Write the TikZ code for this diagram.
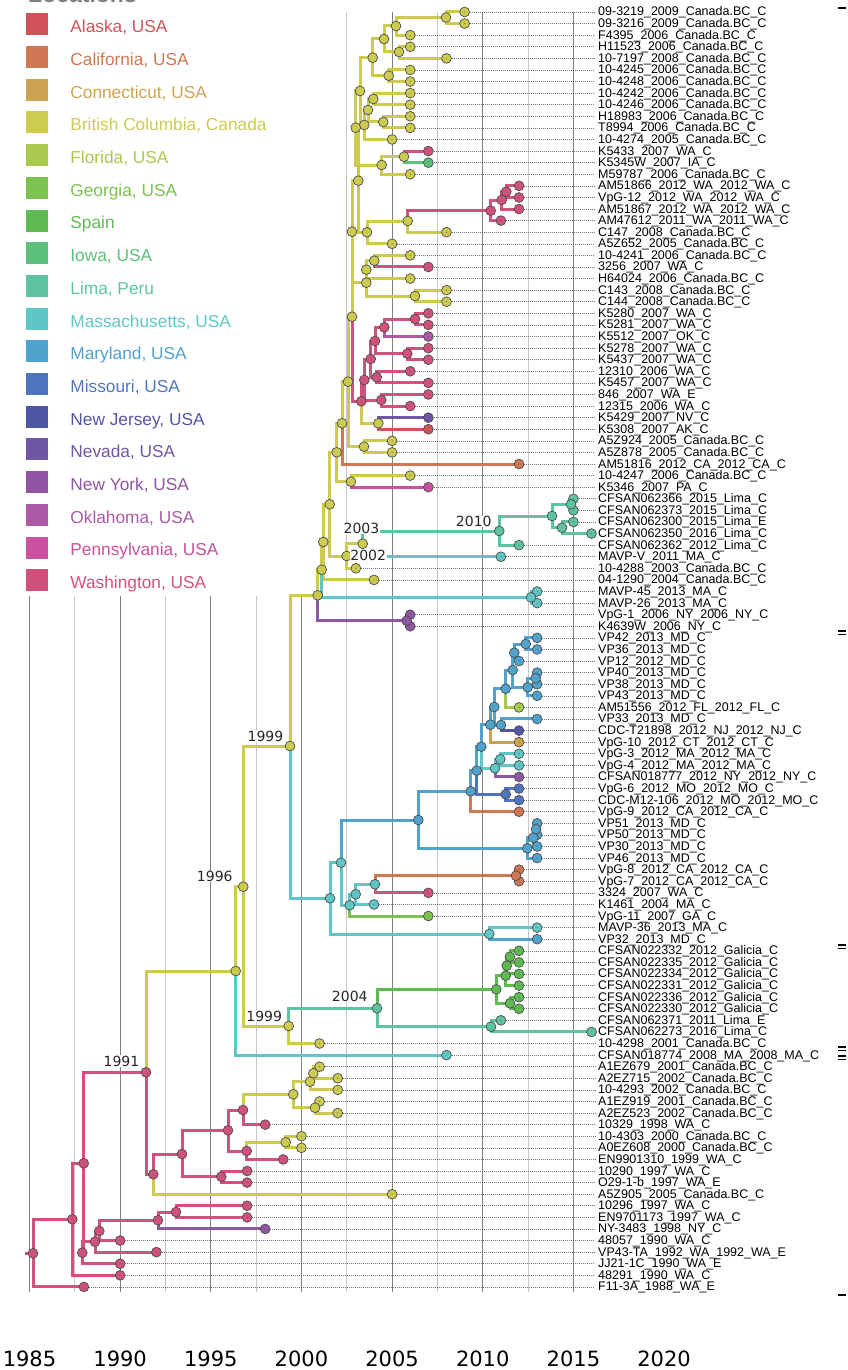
\documentclass[tikz,border=0pt]{standalone}
\usepackage{fontspec}
\setmainfont{Liberation Sans}
\newfontfamily\yearfont{DejaVu Sans}

\definecolor{ak}{HTML}{D0525A}
\definecolor{ca}{HTML}{CE7752}
\definecolor{ct}{HTML}{CDA251}
\definecolor{bc}{HTML}{CCCB50}
\definecolor{fl}{HTML}{A8C94E}
\definecolor{ga}{HTML}{7DC250}
\definecolor{es}{HTML}{5EBB51}
\definecolor{ia}{HTML}{5CBF7A}
\definecolor{pe}{HTML}{5EC39F}
\definecolor{ma}{HTML}{5EC7C6}
\definecolor{md}{HTML}{4FA3CC}
\definecolor{mo}{HTML}{5075BD}
\definecolor{nj}{HTML}{5155A6}
\definecolor{nv}{HTML}{6E57A5}
\definecolor{ny}{HTML}{8E56A3}
\definecolor{ok}{HTML}{AC5AA6}
\definecolor{pa}{HTML}{C9519F}
\definecolor{wa}{HTML}{D0527A}

\pgfdeclarelayer{back}
\pgfdeclarelayer{branches}
\pgfsetlayers{back,branches,main}

% parent, child 1 and its colour, child 2 and its colour
\newcommand{\kids}[5]{%
  \draw[branch,#3] (#1.center) |- (#2.center);
  \draw[branch,#5] (#1.center) |- (#4.center);}

\begin{document}
\begin{tikzpicture}[x=1pt,y=-1pt,
    dot/.style={circle,draw=black!70,line width=0.7pt,minimum size=9.8pt,inner sep=0pt},
    tip/.style={dot,path picture={\fill[black!60] (path picture bounding box.center) circle (0.6pt);}},
    branch/.style={line width=3pt},
    leader/.style={black!55,line width=0.6pt,dash pattern=on 0.8pt off 1.2pt},
    tiplabel/.style={anchor=west,inner xsep=3pt,inner ysep=0pt,text height=9.5pt,text depth=1.5pt,
      font=\fontsize{12.5pt}{14pt}\selectfont},
    gridmajor/.style={black!50,line width=1pt},
    gridminor/.style={black!22,line width=1pt},
    yearlab/.style={anchor=base east,fill=white,inner sep=0.5pt,text=black!85,
      font=\yearfont\fontsize{14pt}{16pt}\selectfont},
    legbox/.style={minimum size=22pt,inner sep=0pt},
    legtext/.style={anchor=base west,inner sep=0pt,font=\fontsize{17.3pt}{19pt}\selectfont},
    axislab/.style={anchor=base,inner sep=0pt,font=\yearfont\fontsize{21pt}{23pt}\selectfont}]

  \useasboundingbox (0,0) rectangle (847,1370);

  % time grid, every 2.5 years
  \begin{pgfonlayer}{back}
    \foreach \k in {0,2,...,12} {
      \pgfmathsetmacro\gy{\k<7 ? 596 : 12}
      \draw[gridmajor] ({29.5+\k*45.325},\gy) -- ({29.5+\k*45.325},1292);
    }
    \foreach \k in {1,3,...,11} {
      \pgfmathsetmacro\gy{\k<7 ? 596 : 12}
      \draw[gridminor] ({29.5+\k*45.325},\gy) -- ({29.5+\k*45.325},1292);
    }
  \end{pgfonlayer}

  % tips
  \foreach \yr/\col/\lab [count=\i] in {
      2009/bc/09-3219\_2009\_Canada.BC\_C, 2009/bc/09-3216\_2009\_Canada.BC\_C,
      2006/bc/F4395\_2006\_Canada.BC\_C, 2006/bc/H11523\_2006\_Canada.BC\_C,
      2008/bc/10-7197\_2008\_Canada.BC\_C, 2006/bc/10-4245\_2006\_Canada.BC\_C,
      2006/bc/10-4248\_2006\_Canada.BC\_C, 2006/bc/10-4242\_2006\_Canada.BC\_C,
      2006/bc/10-4246\_2006\_Canada.BC\_C, 2006/bc/H18983\_2006\_Canada.BC\_C,
      2006/bc/T8994\_2006\_Canada.BC\_C, 2005/bc/10-4274\_2005\_Canada.BC\_C,
      2007/wa/K5433\_2007\_WA\_C, 2007/ia/K5345W\_2007\_IA\_C,
      2006/bc/M59787\_2006\_Canada.BC\_C, 2012/wa/AM51866\_2012\_WA\_2012\_WA\_C,
      2012/wa/VpG-12\_2012\_WA\_2012\_WA\_C, 2012/wa/AM51867\_2012\_WA\_2012\_WA\_C,
      2011/wa/AM47612\_2011\_WA\_2011\_WA\_C, 2008/bc/C147\_2008\_Canada.BC\_C,
      2005/bc/A5Z652\_2005\_Canada.BC\_C, 2006/bc/10-4241\_2006\_Canada.BC\_C,
      2007/wa/3256\_2007\_WA\_C, 2006/bc/H64024\_2006\_Canada.BC\_C,
      2008/bc/C143\_2008\_Canada.BC\_C, 2008/bc/C144\_2008\_Canada.BC\_C,
      2007/wa/K5280\_2007\_WA\_C, 2007/wa/K5281\_2007\_WA\_C,
      2007/ok/K5512\_2007\_OK\_C, 2007/wa/K5278\_2007\_WA\_C,
      2007/wa/K5437\_2007\_WA\_C, 2006/wa/12310\_2006\_WA\_C,
      2007/wa/K5457\_2007\_WA\_C, 2007/wa/846\_2007\_WA\_E,
      2006/wa/12315\_2006\_WA\_C, 2007/nv/K5429\_2007\_NV\_C,
      2007/ak/K5308\_2007\_AK\_C, 2005/bc/A5Z924\_2005\_Canada.BC\_C,
      2005/bc/A5Z878\_2005\_Canada.BC\_C, 2012/ca/AM51816\_2012\_CA\_2012\_CA\_C,
      2006/bc/10-4247\_2006\_Canada.BC\_C, 2007/pa/K5346\_2007\_PA\_C,
      2015/pe/CFSAN062366\_2015\_Lima\_C, 2015/pe/CFSAN062373\_2015\_Lima\_C,
      2015/pe/CFSAN062300\_2015\_Lima\_E, 2016/pe/CFSAN062350\_2016\_Lima\_C,
      2012/pe/CFSAN062362\_2012\_Lima\_C, 2011/ma/MAVP-V\_2011\_MA\_C,
      2003/bc/10-4288\_2003\_Canada.BC\_C, 2004/bc/04-1290\_2004\_Canada.BC\_C,
      2013/ma/MAVP-45\_2013\_MA\_C, 2013/ma/MAVP-26\_2013\_MA\_C,
      2006/ny/VpG-1\_2006\_NY\_2006\_NY\_C, 2006/ny/K4639W\_2006\_NY\_C,
      2013/md/VP42\_2013\_MD\_C, 2013/md/VP36\_2013\_MD\_C,
      2012/md/VP12\_2012\_MD\_C, 2013/md/VP40\_2013\_MD\_C,
      2013/md/VP38\_2013\_MD\_C, 2013/md/VP43\_2013\_MD\_C,
      2012/fl/AM51556\_2012\_FL\_2012\_FL\_C, 2013/md/VP33\_2013\_MD\_C,
      2012/nj/CDC-T21898\_2012\_NJ\_2012\_NJ\_C, 2012/ct/VpG-10\_2012\_CT\_2012\_CT\_C,
      2012/ma/VpG-3\_2012\_MA\_2012\_MA\_C, 2012/ma/VpG-4\_2012\_MA\_2012\_MA\_C,
      2012/ny/CFSAN018777\_2012\_NY\_2012\_NY\_C, 2012/mo/VpG-6\_2012\_MO\_2012\_MO\_C,
      2012/mo/CDC-M12-106\_2012\_MO\_2012\_MO\_C, 2012/ca/VpG-9\_2012\_CA\_2012\_CA\_C,
      2013/md/VP51\_2013\_MD\_C, 2013/md/VP50\_2013\_MD\_C,
      2013/md/VP30\_2013\_MD\_C, 2013/md/VP46\_2013\_MD\_C,
      2012/ca/VpG-8\_2012\_CA\_2012\_CA\_C, 2012/ca/VpG-7\_2012\_CA\_2012\_CA\_C,
      2007/wa/3324\_2007\_WA\_C, 2004/ma/K1461\_2004\_MA\_C,
      2007/ga/VpG-11\_2007\_GA\_C, 2013/ma/MAVP-36\_2013\_MA\_C,
      2013/md/VP32\_2013\_MD\_C, 2012/es/CFSAN022332\_2012\_Galicia\_C,
      2012/es/CFSAN022335\_2012\_Galicia\_C, 2012/es/CFSAN022334\_2012\_Galicia\_C,
      2012/es/CFSAN022331\_2012\_Galicia\_C, 2012/es/CFSAN022336\_2012\_Galicia\_C,
      2012/es/CFSAN022330\_2012\_Galicia\_C, 2011/pe/CFSAN062371\_2011\_Lima\_E,
      2016/pe/CFSAN062273\_2016\_Lima\_C, 2001/bc/10-4298\_2001\_Canada.BC\_C,
      2008/ma/CFSAN018774\_2008\_MA\_2008\_MA\_C, 2001/bc/A1EZ679\_2001\_Canada.BC\_C,
      2002/bc/A2EZ715\_2002\_Canada.BC\_C, 2002/bc/10-4293\_2002\_Canada.BC\_C,
      2001/bc/A1EZ919\_2001\_Canada.BC\_C, 2002/bc/A2EZ523\_2002\_Canada.BC\_C,
      1998/wa/10329\_1998\_WA\_C, 2000/bc/10-4303\_2000\_Canada.BC\_C,
      2000/bc/A0EZ608\_2000\_Canada.BC\_C, 1999/wa/EN9901310\_1999\_WA\_C,
      1997/wa/10290\_1997\_WA\_C, 1997/wa/O29-1-b\_1997\_WA\_E,
      2005/bc/A5Z905\_2005\_Canada.BC\_C, 1997/wa/10296\_1997\_WA\_C,
      1997/wa/EN9701173\_1997\_WA\_C, 1998/ny/NY-3483\_1998\_NY\_C,
      1990/wa/48057\_1990\_WA\_C, 1992/wa/VP43-TA\_1992\_WA\_1992\_WA\_E,
      1990/wa/JJ21-1C\_1990\_WA\_E, 1990/wa/48291\_1990\_WA\_C,
      1988/wa/F11-3A\_1988\_WA\_E} {
    \node[tip,fill=\col] (t\i) at ({29.5+(\yr-1985)*18.13},{12+(\i-1)*11.59}) {};
    \node[tiplabel] (lab\i) at (595,{12+(\i-1)*11.59}) {\lab};
    \begin{pgfonlayer}{back}
      \draw[leader] (t\i) -- (lab\i.west);
    \end{pgfonlayer}
  }

  % inner nodes
  \foreach \nm/\x/\y/\col in {
      nn/446/17.5/bc, nl/396/26/bc, nm/399/52/bc, nj/384/39/bc, nk/388.7/75.7/bc,
      nb/372.7/57.7/bc, nh/373.3/99/bc, ni/383.3/122/bc, ng/368/110/bc, nd/364.3/125/bc,
      na/360/91/bc, nf/404/156.7/bc, ne/381.7/165/bc, u1/355.7/127.7/bc,
      s4/506.3/191.7/wa, s3/501.7/200/wa, s2/490.7/210.7/wa, s1/407.7/221/bc, s/367/232.3/bc,
      u2/358.3/180.7/bc, r3/374.3/260.7/bc, r1/366.3/269.7/bc, r2/415/296/bc, r/366.3/282.7/bc,
      u3/352/231.7/bc, w10/415/319/wa, w8/384.3/327.3/wa, w9/407.3/353.7/wa, w6/375/341/wa,
      w7/376.7/377.3/wa, w4/370.7/359/wa, w5/381.3/400/wa, w2/364.3/380/wa, w3/378.3/423.3/bc,
      w1/361.3/401.3/wa, k/352/316.7/bc, l/364/446.7/bc, j/348/381.7/bc, h/342/423.3/bc,
      i/351/481.7/bc, d/336.7/452.3/bc, g1/571/504.3/pe, g3/562/527.7/pe, g2/552/516/pe,
      g/499.3/531/pe, f/362.7/543.7/bc, e/346.7/556/bc, c/329.7/504.3/bc, b/323.3/542/bc,
      m/531/597.3/ma, a/321.7/569.7/bc, p/406.7/620.7/ny, top/317.7/595.3/bc,
      n1999/290/746/bc,
      y17/525.7/644/md, y15/514.3/652.7/md, y18/535.7/678.3/md, y16/527.7/687.3/md,
      y14/512.7/670/md, y12/505.7/688.7/md, y13/501/725/md, y11/494.3/707/md, y8/490.3/724.7/md,
      y10/500.3/759.3/ma, y9/495/768.3/ma, y6/481.3/746.7/md, y7/505.7/794.3/mo,
      y5/476.7/770.7/md, y1/470.7/791.3/md, y4/536/829.3/md, y3/533.3/837.7/md,
      y2/527.3/848.3/md, y/418.3/820/md,
      z3/516/875.7/ca, z2/375/884.3/ma, z1/355.7/894.3/ma, z/349.7/905.3/ma,
      x1/341/862.7/ma, x2/489.3/934/ma, x/330/898.3/ma,
      q7/510/956.7/es, q6/506.7/965.7/es, q4/505.7/975.7/es, q5/510/1003.3/es,
      q2/496.3/989.3/es, q3/491/1026.7/pe, q1/377/1008.3/pe, q/288.7/1026/bc,
      n1996/243.3/886.7/bc, v/235.7/971/bc, n1991/146/1072.3/wa,
      o10/313.3/1073.3/bc, o8/310/1081.7/bc, o9/315/1107.7/bc, o7/293.3/1094.3/bc,
      o4/243/1110/wa, o6/285.7/1142.3/bc, o5/246.7/1151/wa, o2/228/1130.3/wa,
      o3/221.3/1176.7/wa, o1/182/1154/wa, o/153.3/1174.3/wa,
      rg/176/1212/wa, rf/158/1220.3/wa, re/99.3/1231/wa, rd/95/1241.7/wa,
      rc/82.3/1252.7/wa, rb/83.7/1163.3/wa, ra/72.3/1219.3/wa, root/33/1253.3/wa} {
    \node[dot,fill=\col] (\nm) at (\x,\y) {};
  }
  \coordinate (stub) at (25,1253.3);

  % branches, coloured by the child
  \begin{pgfonlayer}{branches}
    \kids{nn}{t1}{bc}{t2}{bc}
    \kids{nl}{nn}{bc}{t3}{bc}
    \kids{nm}{t4}{bc}{t5}{bc}
    \kids{nj}{nl}{bc}{nm}{bc}
    \kids{nk}{t6}{bc}{t7}{bc}
    \kids{nb}{nj}{bc}{nk}{bc}
    \kids{nh}{t8}{bc}{t9}{bc}
    \kids{ni}{t10}{bc}{t11}{bc}
    \kids{ng}{nh}{bc}{ni}{bc}
    \kids{nd}{ng}{bc}{t12}{bc}
    \kids{na}{nb}{bc}{nd}{bc}
    \kids{nf}{t13}{wa}{t14}{ia}
    \kids{ne}{nf}{bc}{t15}{bc}
    \kids{u1}{na}{bc}{ne}{bc}
    \kids{s4}{t16}{wa}{t17}{wa}
    \kids{s3}{s4}{wa}{t18}{wa}
    \kids{s2}{s3}{wa}{t19}{wa}
    \kids{s1}{s2}{wa}{t20}{bc}
    \kids{s}{s1}{bc}{t21}{bc}
    \kids{u2}{u1}{bc}{s}{bc}
    \kids{r3}{t22}{bc}{t23}{wa}
    \kids{r1}{r3}{bc}{t24}{bc}
    \kids{r2}{t25}{bc}{t26}{bc}
    \kids{r}{r1}{bc}{r2}{bc}
    \kids{u3}{u2}{bc}{r}{bc}
    \kids{w10}{t27}{wa}{t28}{wa}
    \kids{w8}{w10}{wa}{t29}{ok}
    \kids{w9}{t30}{wa}{t31}{wa}
    \kids{w6}{w8}{wa}{w9}{wa}
    \kids{w7}{t32}{wa}{t33}{wa}
    \kids{w4}{w6}{wa}{w7}{wa}
    \kids{w5}{t34}{wa}{t35}{wa}
    \kids{w2}{w4}{wa}{w5}{wa}
    \kids{w3}{t36}{nv}{t37}{ak}
    \kids{w1}{w2}{wa}{w3}{bc}
    \kids{k}{u3}{bc}{w1}{wa}
    \kids{l}{t38}{bc}{t39}{bc}
    \kids{j}{k}{bc}{l}{bc}
    \kids{h}{j}{bc}{t40}{ca}
    \kids{i}{t41}{bc}{t42}{pa}
    \kids{d}{h}{bc}{i}{bc}
    \kids{g1}{t43}{pe}{t44}{pe}
    \kids{g3}{t45}{pe}{t46}{pe}
    \kids{g2}{g1}{pe}{g3}{pe}
    \kids{g}{g2}{pe}{t47}{pe}
    \kids{f}{g}{pe}{t48}{ma}
    \kids{e}{f}{bc}{t49}{bc}
    \kids{c}{d}{bc}{e}{bc}
    \kids{b}{c}{bc}{t50}{bc}
    \kids{m}{t51}{ma}{t52}{ma}
    \kids{a}{b}{bc}{m}{ma}
    \kids{p}{t53}{ny}{t54}{ny}
    \kids{top}{a}{bc}{p}{ny}
    \kids{n1999}{top}{bc}{x}{ma}
    \kids{y17}{t55}{md}{t56}{md}
    \kids{y15}{y17}{md}{t57}{md}
    \kids{y18}{t58}{md}{t59}{md}
    \kids{y16}{y18}{md}{t60}{md}
    \kids{y14}{y15}{md}{y16}{md}
    \kids{y12}{y14}{md}{t61}{fl}
    \kids{y13}{t62}{md}{t63}{nj}
    \kids{y11}{y12}{md}{y13}{md}
    \kids{y8}{y11}{md}{t64}{ct}
    \kids{y10}{t65}{ma}{t66}{ma}
    \kids{y9}{y10}{ma}{t67}{ny}
    \kids{y6}{y8}{md}{y9}{ma}
    \kids{y7}{t68}{mo}{t69}{mo}
    \kids{y5}{y6}{md}{y7}{mo}
    \kids{y1}{y5}{md}{t70}{ca}
    \kids{y4}{t71}{md}{t72}{md}
    \kids{y3}{y4}{md}{t73}{md}
    \kids{y2}{y3}{md}{t74}{md}
    \kids{y}{y1}{md}{y2}{md}
    \kids{z3}{t75}{ca}{t76}{ca}
    \kids{z2}{z3}{ca}{t77}{wa}
    \kids{z1}{z2}{ma}{t78}{ma}
    \kids{z}{z1}{ma}{t79}{ga}
    \kids{x1}{y}{md}{z}{ma}
    \kids{x2}{t80}{ma}{t81}{md}
    \kids{x}{x1}{ma}{x2}{ma}
    \kids{q7}{t82}{es}{t83}{es}
    \kids{q6}{q7}{es}{t84}{es}
    \kids{q4}{q6}{es}{t85}{es}
    \kids{q5}{t86}{es}{t87}{es}
    \kids{q2}{q4}{es}{q5}{es}
    \kids{q3}{t88}{pe}{t89}{pe}
    \kids{q1}{q2}{es}{q3}{pe}
    \kids{q}{q1}{pe}{t90}{bc}
    \kids{n1996}{n1999}{bc}{q}{bc}
    \kids{v}{n1996}{bc}{t91}{ma}
    \kids{o10}{t92}{bc}{t93}{bc}
    \kids{o8}{o10}{bc}{t94}{bc}
    \kids{o9}{t95}{bc}{t96}{bc}
    \kids{o7}{o8}{bc}{o9}{bc}
    \kids{o4}{o7}{bc}{t97}{wa}
    \kids{o6}{t98}{bc}{t99}{bc}
    \kids{o5}{o6}{bc}{t100}{wa}
    \kids{o2}{o4}{wa}{o5}{wa}
    \kids{o3}{t101}{wa}{t102}{wa}
    \kids{o1}{o2}{wa}{o3}{wa}
    \kids{o}{o1}{wa}{t103}{bc}
    \kids{n1991}{v}{bc}{o}{wa}
    \kids{rg}{t104}{wa}{t105}{wa}
    \kids{rf}{rg}{wa}{t106}{ny}
    \kids{re}{rf}{wa}{t107}{wa}
    \kids{rd}{re}{wa}{t108}{wa}
    \kids{rc}{rd}{wa}{t109}{wa}
    \kids{rb}{n1991}{wa}{rc}{wa}
    \kids{ra}{rb}{wa}{t110}{wa}
    \kids{root}{ra}{wa}{t111}{wa}
    \draw[branch,wa] (stub) -- (root.center);
  \end{pgfonlayer}

  % dates on some nodes
  \node[yearlab] (lab-2003) at (380,533.3) {2003};
  \node[yearlab] (lab-2002) at (386.7,560) {2002};
  \node[yearlab] (lab-2010) at (492.3,526.7) {2010};
  \node[yearlab] (lab-1999a) at (284,741.5) {1999};
  \node[yearlab] (lab-1996) at (233.3,881.7) {1996};
  \node[yearlab] (lab-2004) at (368.3,1001.7) {2004};
  \node[yearlab] (lab-1999b) at (282.7,1021) {1999};
  \node[yearlab] (lab-1991) at (140,1066) {1991};

  % legend
  \node[anchor=base west,inner sep=0pt,text=black!50,font=\bfseries\fontsize{23pt}{25pt}\selectfont]
    (leg-title) at (28,2.5) {Locations};
  \foreach \col/\txt [count=\i] in {ak/{Alaska, USA}, ca/{California, USA}, ct/{Connecticut, USA},
      bc/{British Columbia, Canada}, fl/{Florida, USA}, ga/{Georgia, USA}, es/{Spain},
      ia/{Iowa, USA}, pe/{Lima, Peru}, ma/{Massachusetts, USA}, md/{Maryland, USA},
      mo/{Missouri, USA}, nj/{New Jersey, USA}, nv/{Nevada, USA}, ny/{New York, USA},
      ok/{Oklahoma, USA}, pa/{Pennsylvania, USA}, wa/{Washington, USA}} {
    \node[legbox,fill=\col] (leg\i) at (37,{24.3+(\i-1)*32.7}) {};
    \node[legtext,text=\col,xshift=22pt,yshift=-8.4pt] (legt\i) at (leg\i.east) {\txt};
  }

  % time axis
  \foreach \yr in {1985,1990,...,2020} {
    \node[axislab] (ax\yr) at ({29.5+(\yr-1985)*18.13},1366) {\yr};
  }

  % marks at the right edge
  \foreach \my in {8,1295} {
    \draw[black,line width=1.2pt] (838,\my) -- (846,\my);
  }
  \foreach \my in {631,945,1047,1056} {
    \draw[black,line width=1.2pt] (838,\my) -- (846,\my);
    \draw[black,line width=1.2pt] (838,\my+3.5) -- (846,\my+3.5);
  }
\end{tikzpicture}
\end{document}
